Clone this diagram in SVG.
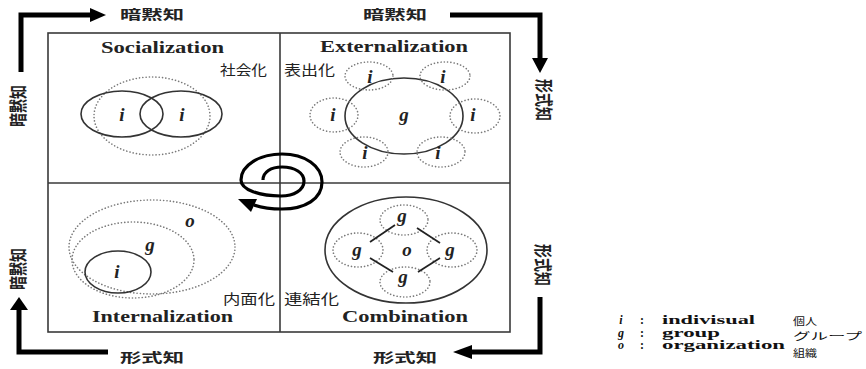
<svg xmlns="http://www.w3.org/2000/svg" width="866" height="369" viewBox="0 0 866 369">
<defs>
<style>
.box{fill:none;stroke:#3a3a3a;stroke-width:1.6}
.solid{fill:none;stroke:#333;stroke-width:1.6}
.dot{fill:none;stroke:#7a7a7a;stroke-width:1.6;stroke-dasharray:0.1 3.2;stroke-linecap:round}
.arw{fill:none;stroke:#000;stroke-width:5;stroke-linejoin:miter}
.head{fill:#000}
.en{font-family:"Liberation Serif","Times New Roman",serif;font-weight:bold;font-size:16px;fill:#222}
.var{font-family:"Liberation Serif","Times New Roman",serif;font-weight:bold;font-style:italic;font-size:19px;fill:#222;text-anchor:middle}
.jp{font-family:"Noto Sans CJK JP",sans-serif;font-size:14px;fill:#222}
.jpb{font-family:"Noto Sans CJK JP",sans-serif;font-weight:bold;font-size:13px;fill:#222}
.lg{font-family:"Liberation Serif","Times New Roman",serif;font-weight:bold;font-size:12px;fill:#111}
.lgv{font-family:"Liberation Serif","Times New Roman",serif;font-weight:bold;font-style:italic;font-size:12px;fill:#111}
.lgj{font-family:"Noto Sans CJK JP",sans-serif;font-size:10px;fill:#111}
</style>
</defs>
<rect width="866" height="369" fill="#fff"/>

<g id="frame">
<rect class="box" x="48" y="33" width="462" height="299"/>
<line class="box" x1="280" y1="33" x2="280" y2="332"/>
<line class="box" x1="48" y1="183" x2="510" y2="183"/>
</g>

<g id="connectors">
<path class="arw" d="M21,72 V15 H92"/>
<polygon class="head" points="106,15 90,8 90,22"/>
<path class="arw" d="M450,15 H540 V60"/>
<polygon class="head" points="532,58 548,58 540,73"/>
<path class="arw" d="M540,297 V352 H470"/>
<polygon class="head" points="472,345 472,359 453,352"/>
<path class="arw" d="M108,352 H19 V310"/>
<polygon class="head" points="10,310 28,310 19,297"/>
</g>

<g id="flow-labels">
<text class="jpb" x="152" y="13" dominant-baseline="central" text-anchor="middle" textLength="64" lengthAdjust="spacingAndGlyphs">暗黙知</text>
<text class="jpb" x="395" y="13" dominant-baseline="central" text-anchor="middle" textLength="64" lengthAdjust="spacingAndGlyphs">暗黙知</text>
<text class="jpb" x="152" y="356" dominant-baseline="central" text-anchor="middle" textLength="64" lengthAdjust="spacingAndGlyphs">形式知</text>
<text class="jpb" x="405" y="356" dominant-baseline="central" text-anchor="middle" textLength="64" lengthAdjust="spacingAndGlyphs">形式知</text>
<text class="jpb" transform="translate(18,106) scale(1.4,1) rotate(-90)" dominant-baseline="central" text-anchor="middle" textLength="42" lengthAdjust="spacingAndGlyphs">暗黙知</text>
<text class="jpb" transform="translate(18,269) scale(1.4,1) rotate(-90)" dominant-baseline="central" text-anchor="middle" textLength="42" lengthAdjust="spacingAndGlyphs">暗黙知</text>
<text class="jpb" transform="translate(544,100) scale(1.4,1) rotate(90)" dominant-baseline="central" text-anchor="middle" textLength="42" lengthAdjust="spacingAndGlyphs">形式知</text>
<text class="jpb" transform="translate(543,265) scale(1.4,1) rotate(90)" dominant-baseline="central" text-anchor="middle" textLength="42" lengthAdjust="spacingAndGlyphs">形式知</text>
</g>

<g id="socialization">
<text class="en" x="101" y="52.5" textLength="123" lengthAdjust="spacingAndGlyphs">Socialization</text>
<text class="jp" x="220" y="69" dominant-baseline="central" textLength="47" lengthAdjust="spacingAndGlyphs">社会化</text>
<ellipse class="dot" cx="152" cy="116" rx="58" ry="39"/>
<ellipse class="solid" cx="122" cy="114" rx="41" ry="23"/>
<ellipse class="solid" cx="181" cy="114" rx="41" ry="23"/>
<text class="var" x="122" y="121">i</text>
<text class="var" x="182" y="121">i</text>
</g>

<g id="externalization">
<text class="en" x="320" y="52" textLength="148" lengthAdjust="spacingAndGlyphs">Externalization</text>
<text class="jp" x="284" y="69" dominant-baseline="central" textLength="51" lengthAdjust="spacingAndGlyphs">表出化</text>
<ellipse class="solid" cx="404" cy="116" rx="59" ry="38"/>
<ellipse class="dot" cx="369" cy="76" rx="24" ry="14"/>
<ellipse class="dot" cx="445" cy="76" rx="25" ry="14"/>
<ellipse class="dot" cx="334" cy="115" rx="24" ry="17"/>
<ellipse class="dot" cx="475" cy="116" rx="25" ry="17"/>
<ellipse class="dot" cx="364" cy="152" rx="24" ry="15"/>
<ellipse class="dot" cx="441" cy="152" rx="24" ry="15"/>
<text class="var" x="404" y="121">g</text>
<text class="var" x="370" y="83">i</text>
<text class="var" x="443" y="83">i</text>
<text class="var" x="333" y="121">i</text>
<text class="var" x="473" y="121">i</text>
<text class="var" x="365" y="159">i</text>
<text class="var" x="438" y="159">i</text>
</g>

<g id="internalization">
<text class="en" x="92" y="321.5" textLength="141" lengthAdjust="spacingAndGlyphs">Internalization</text>
<text class="jp" x="223" y="298" dominant-baseline="central" textLength="52" lengthAdjust="spacingAndGlyphs">内面化</text>
<ellipse class="dot" cx="152" cy="247" rx="83" ry="47"/>
<ellipse class="dot" cx="133" cy="260" rx="61" ry="38"/>
<ellipse class="solid" cx="118" cy="272" rx="33" ry="21"/>
<text class="var" x="190" y="227">o</text>
<text class="var" x="150" y="251">g</text>
<text class="var" x="117" y="278">i</text>
</g>

<g id="combination">
<text class="en" x="342" y="321.5" textLength="126" lengthAdjust="spacingAndGlyphs">Combination</text>
<text class="jp" x="284" y="298" dominant-baseline="central" textLength="55" lengthAdjust="spacingAndGlyphs">連結化</text>
<ellipse class="solid" cx="406" cy="250" rx="81" ry="53"/>
<ellipse class="dot" cx="404" cy="220" rx="24" ry="15"/>
<ellipse class="dot" cx="358" cy="250" rx="25" ry="17"/>
<ellipse class="dot" cx="452" cy="250" rx="25" ry="17"/>
<ellipse class="dot" cx="405" cy="282" rx="25" ry="15"/>
<g stroke="#222" stroke-width="1.8">
<line x1="370" y1="242" x2="395" y2="225"/>
<line x1="417" y1="228" x2="440" y2="243"/>
<line x1="370" y1="258" x2="393" y2="272"/>
<line x1="418" y1="272" x2="440" y2="258"/>
</g>
<text class="var" x="402" y="222">g</text>
<text class="var" x="357" y="256">g</text>
<text class="var" x="450" y="256">g</text>
<text class="var" x="403" y="283">g</text>
<text class="var" x="407" y="256">o</text>
</g>

<g id="spiral">
<path d="M263,180 C263,172 271,167 282,167 C295,167 304,173 304,181 C304,190 294,196 281,196 C260,196 241,190 241,180 C241,165 260,154 282,154 C305,154 322,166 322,182 C322,199 305,209 282,209 C272,209 263,208 254,205" fill="none" stroke="#000" stroke-width="3.2"/>
<polygon class="head" points="238,199 257,199 251,212"/>
</g>

<g id="legend">
<text class="lgv" x="621" y="324" text-anchor="middle">i</text>
<text class="lg" x="642" y="324" text-anchor="middle">:</text>
<text class="lg" x="662" y="324" textLength="93" lengthAdjust="spacingAndGlyphs">indivisual</text>
<text class="lgj" x="793" y="325" textLength="24" lengthAdjust="spacingAndGlyphs">個人</text>
<text class="lgv" x="621" y="336.5" text-anchor="middle">g</text>
<text class="lg" x="642" y="336.5" text-anchor="middle">:</text>
<text class="lg" x="662" y="336.5" textLength="58" lengthAdjust="spacingAndGlyphs">group</text>
<text class="lgj" x="793" y="339.5" textLength="69" lengthAdjust="spacingAndGlyphs">グループ</text>
<text class="lgv" x="621" y="349" text-anchor="middle">o</text>
<text class="lg" x="642" y="349" text-anchor="middle">:</text>
<text class="lg" x="662" y="349" textLength="123" lengthAdjust="spacingAndGlyphs">organization</text>
<text class="lgj" x="793" y="357" textLength="24" lengthAdjust="spacingAndGlyphs">組織</text>
</g>
</svg>
